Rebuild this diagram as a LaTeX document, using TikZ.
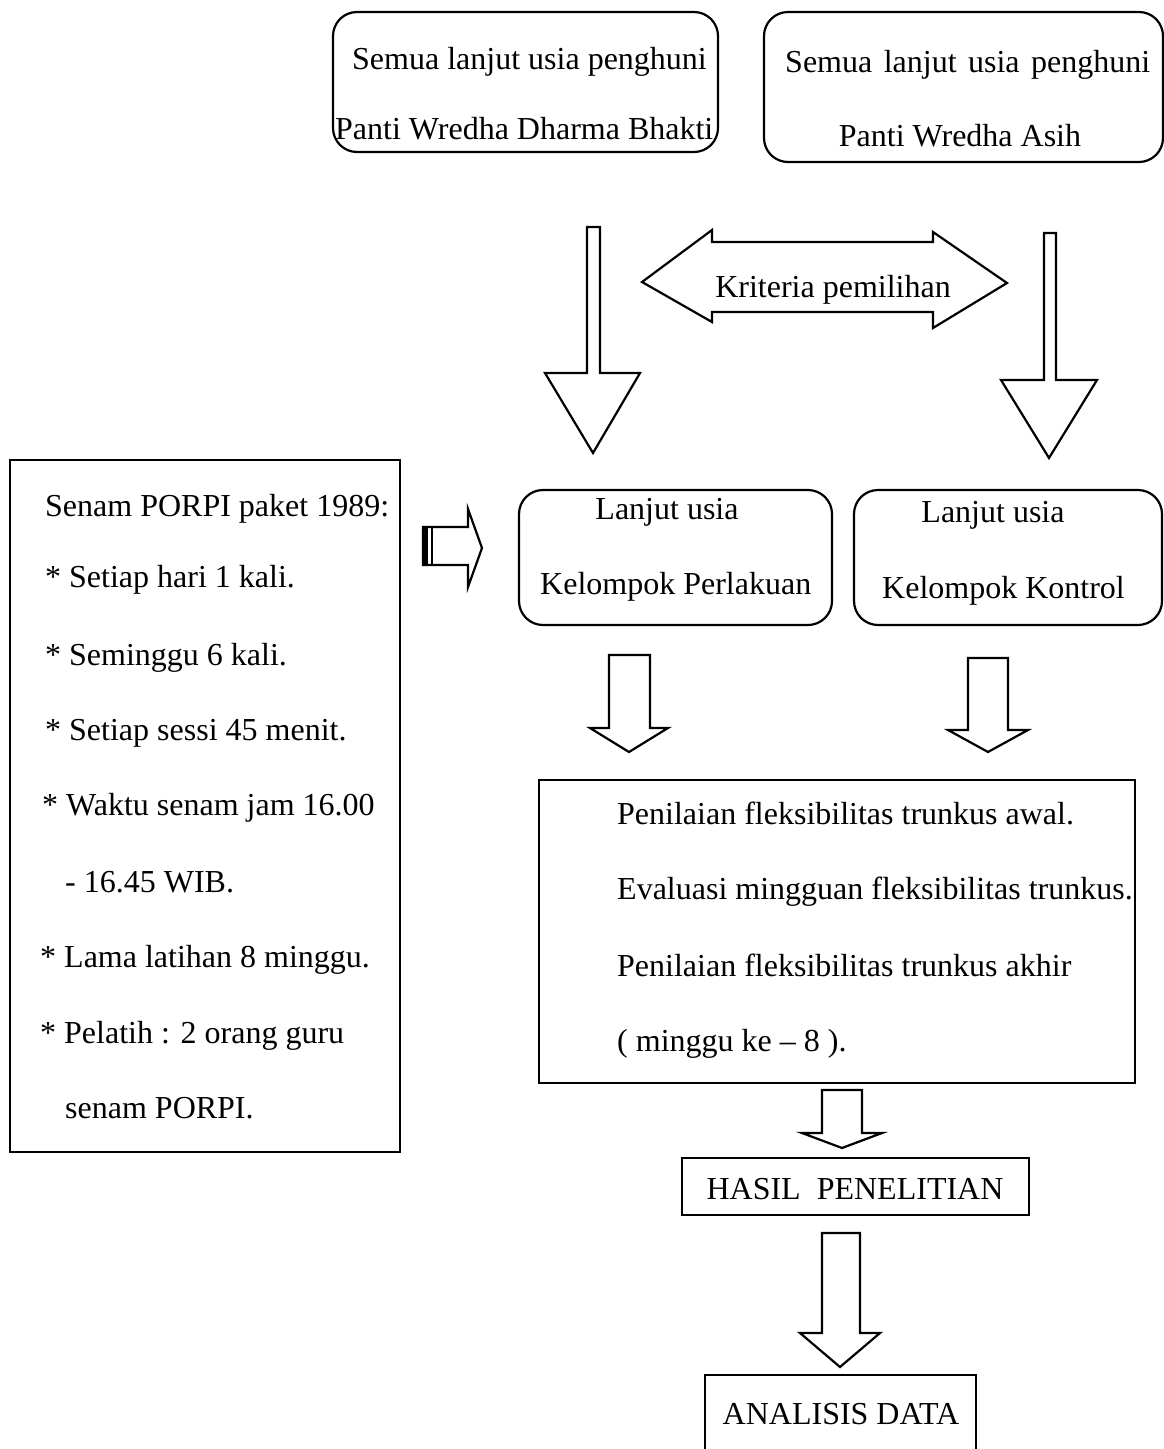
\documentclass[tikz,border=0pt]{standalone}
\usepackage{fontspec}
\setmainfont{Liberation Serif}
\begin{document}
\begin{tikzpicture}[x=1pt,y=-1pt,
  lw/.style={line width=2.2pt},
  rbox/.style={draw,lw,rounded corners=24pt,inner sep=0pt},
  sbox/.style={draw,lw,inner sep=0pt},
  blk/.style={draw,lw,fill=white,line join=miter},
  txt/.style={anchor=base west,inner sep=0pt,font=\fontsize{32}{36}\selectfont},
  ctxt/.style={anchor=base,inner sep=0pt,font=\fontsize{32}{36}\selectfont}]
\useasboundingbox (0,0) rectangle (1164,1449);
\begin{scope}
\clip (0,0) rectangle (1164,1449);
% boxes
\node[rbox,minimum width=385pt,minimum height=140pt] (b1) at (525.5,82) {};
\node[rbox,minimum width=399pt,minimum height=150pt] (b2) at (963.5,87) {};
\node[rbox,minimum width=313pt,minimum height=135pt] (kp) at (675.5,557.5) {};
\node[rbox,minimum width=308pt,minimum height=135pt] (kk) at (1008,557.5) {};
\node[sbox,minimum width=390pt,minimum height=692pt] (lb) at (205,806) {};
\node[sbox,minimum width=596pt,minimum height=303pt] (bb) at (837,931.5) {};
\node[sbox,minimum width=347pt,minimum height=57pt] (hp) at (855.5,1186.5) {};
\node[sbox,minimum width=271pt,minimum height=78pt] (ad) at (840.5,1414) {};

% block arrows
\draw[blk] (587,227)--(600,227)--(600,373)--(640,373)--(593,453)--(545,373)--(587,373)--cycle;
\draw[blk] (1044,233)--(1056,233)--(1056,380)--(1097,380)--(1049,458)--(1001,380)--(1044,380)--cycle;
\draw[blk] (642,282)--(712,230)--(712,242)--(933,242)--(933,232)--(1007,283)--(933,328)--(933,312)--(712,312)--(712,322)--cycle;
\draw[blk] (423,527)--(468,527)--(468,509)--(482,548)--(468,587)--(468,565)--(423,565)--cycle;
\fill (423,527) rectangle (428,565);
\draw[line width=2pt] (432,527)--(432,565);
\draw[blk] (609,655)--(650,655)--(650,728)--(668,728)--(629,752)--(590,728)--(609,728)--cycle;
\draw[blk] (968,658)--(1008,658)--(1008,730)--(1028,730)--(988,752)--(948,730)--(968,730)--cycle;
\draw[blk] (822,1090)--(862,1090)--(862,1133)--(882,1133)--(842,1148)--(802,1133)--(822,1133)--cycle;
\draw[blk] (822,1233)--(860,1233)--(860,1333)--(880,1333)--(840,1367)--(800,1333)--(822,1333)--cycle;

% texts
\node[txt] (t1) at (352,69) {Semua lanjut usia penghuni};
\node[txt] (t2) at (335,139) {Panti Wredha Dharma Bhakti};
\node[txt] (t3) at (785,72) {\makebox[365pt][s]{Semua\hfill lanjut\hfill usia\hfill penghuni}};
\node[ctxt] (t4) at (960,146) {Panti Wredha Asih};
\node[ctxt] (t5) at (833,297) {Kriteria pemilihan};

\node[txt] (l1) at (45,516) {Senam PORPI paket 1989:};
\node[txt] (l2) at (45,587) {* Setiap hari 1 kali.};
\node[txt] (l3) at (45,665) {* Seminggu 6 kali.};
\node[txt] (l4) at (45,740) {* Setiap sessi 45 menit.};
\node[txt] (l5) at (42,815) {* Waktu senam jam 16.00};
\node[txt] (l6) at (65,892) {- 16.45 WIB.};
\node[txt] (l7) at (40,967) {* Lama latihan 8 minggu.};
\node[txt] (l8) at (40,1043) {* Pelatih : 2 orang guru};
\node[txt] (l9) at (65,1118) {senam PORPI.};

\node[ctxt] (p1) at (667,519) {Lanjut usia};
\node[txt] (p2) at (540,594) {Kelompok Perlakuan};
\node[ctxt] (k1) at (993,522) {Lanjut usia};
\node[txt] (k2) at (882,598) {Kelompok Kontrol};

\node[txt] (e1) at (617,824) {Penilaian fleksibilitas trunkus awal.};
\node[txt] (e2) at (617,899) {Evaluasi mingguan fleksibilitas trunkus.};
\node[txt] (e3) at (617,976) {Penilaian fleksibilitas trunkus akhir};
\node[txt] (e4) at (617,1051) {( minggu ke -- 8 ).};

\node[ctxt] (h1) at (855,1199) {HASIL\ \ PENELITIAN};
\node[ctxt] (a1) at (841,1424) {ANALISIS DATA};
\end{scope}
\end{tikzpicture}
\end{document}
